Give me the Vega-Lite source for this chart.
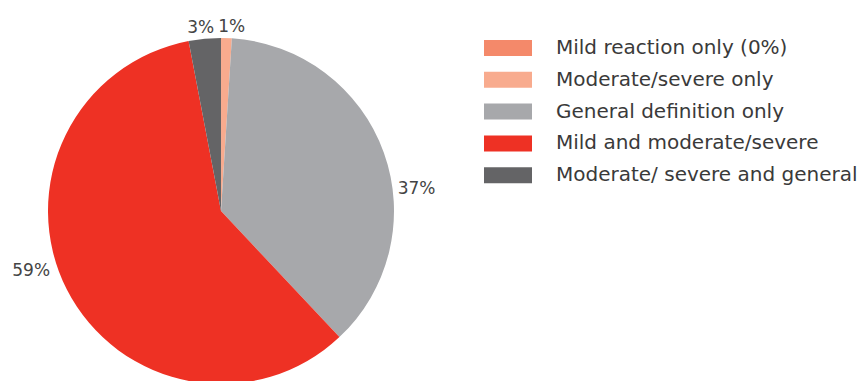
{
  "$schema": "https://vega.github.io/schema/vega-lite/v6.json",
  "width": 442,
  "height": 340,
  "autosize": {"type": "none"},
  "padding": {"left": 0, "top": 41, "right": 425, "bottom": 0},
  "background": "white",
  "config": {"view": {"stroke": null}, "font": "DejaVu Sans"},
  "data": {"values": [
    {"category": "Mild reaction only (0%)", "value": 0, "order": 1, "label": ""},
    {"category": "Moderate/severe only", "value": 1, "order": 2, "label": "1%"},
    {"category": "General definition only", "value": 37, "order": 3, "label": "37%"},
    {"category": "Mild and moderate/severe", "value": 59, "order": 4, "label": "59%"},
    {"category": "Moderate/ severe and general", "value": 3, "order": 5, "label": "3%"}
  ]},
  "encoding": {
    "theta": {"field": "value", "type": "quantitative", "stack": true},
    "order": {"field": "order", "type": "quantitative"},
    "detail": {"field": "category", "type": "nominal"}
  },
  "layer": [
    {
      "mark": {"type": "arc", "outerRadius": 173},
      "encoding": {
        "color": {
          "field": "category",
          "type": "nominal",
          "sort": ["Mild reaction only (0%)", "Moderate/severe only", "General definition only", "Mild and moderate/severe", "Moderate/ severe and general"],
          "scale": {
            "domain": ["Mild reaction only (0%)", "Moderate/severe only", "General definition only", "Mild and moderate/severe", "Moderate/ severe and general"],
            "range": ["#f4896a", "#f8ab8e", "#a7a8ab", "#ee3124", "#646466"]
          },
          "legend": {
            "orient": "none",
            "legendX": 496,
            "legendY": -5,
            "title": null,
            "padding": 0,
            "symbolType": "M-2,-0.667H2V0.667H-2Z",
            "symbolSize": 576,
            "symbolStrokeWidth": 0,
            "symbolOpacity": 1,
            "labelFontSize": 20,
            "labelFont": "DejaVu Sans",
            "labelColor": "#3a3a3a",
            "labelOffset": 36,
            "labelLimit": 0,
            "rowPadding": 9.8
          }
        }
      }
    },
    {
      "mark": {"type": "text", "radius": 184, "dx": -3, "fontSize": 17, "font": "DejaVu Sans", "baseline": "middle", "align": "center", "color": "#444444"},
      "encoding": {"text": {"condition": {"test": "datum.label == '3%'", "field": "label"}, "value": ""}}
    },
    {
      "mark": {"type": "text", "radius": 184, "dx": 5, "fontSize": 17, "font": "DejaVu Sans", "baseline": "middle", "align": "center", "color": "#444444"},
      "encoding": {"text": {"condition": {"test": "datum.label == '1%'", "field": "label"}, "value": ""}}
    },
    {
      "mark": {"type": "text", "radius": 194, "dx": 13, "dy": 44, "fontSize": 17, "font": "DejaVu Sans", "baseline": "middle", "align": "center", "color": "#444444"},
      "encoding": {"text": {"condition": {"test": "datum.label == '37%'", "field": "label"}, "value": ""}}
    },
    {
      "mark": {"type": "text", "radius": 194, "dx": -17, "dy": -28, "fontSize": 17, "font": "DejaVu Sans", "baseline": "middle", "align": "center", "color": "#444444"},
      "encoding": {"text": {"condition": {"test": "datum.label == '59%'", "field": "label"}, "value": ""}}
    }
  ]
}
